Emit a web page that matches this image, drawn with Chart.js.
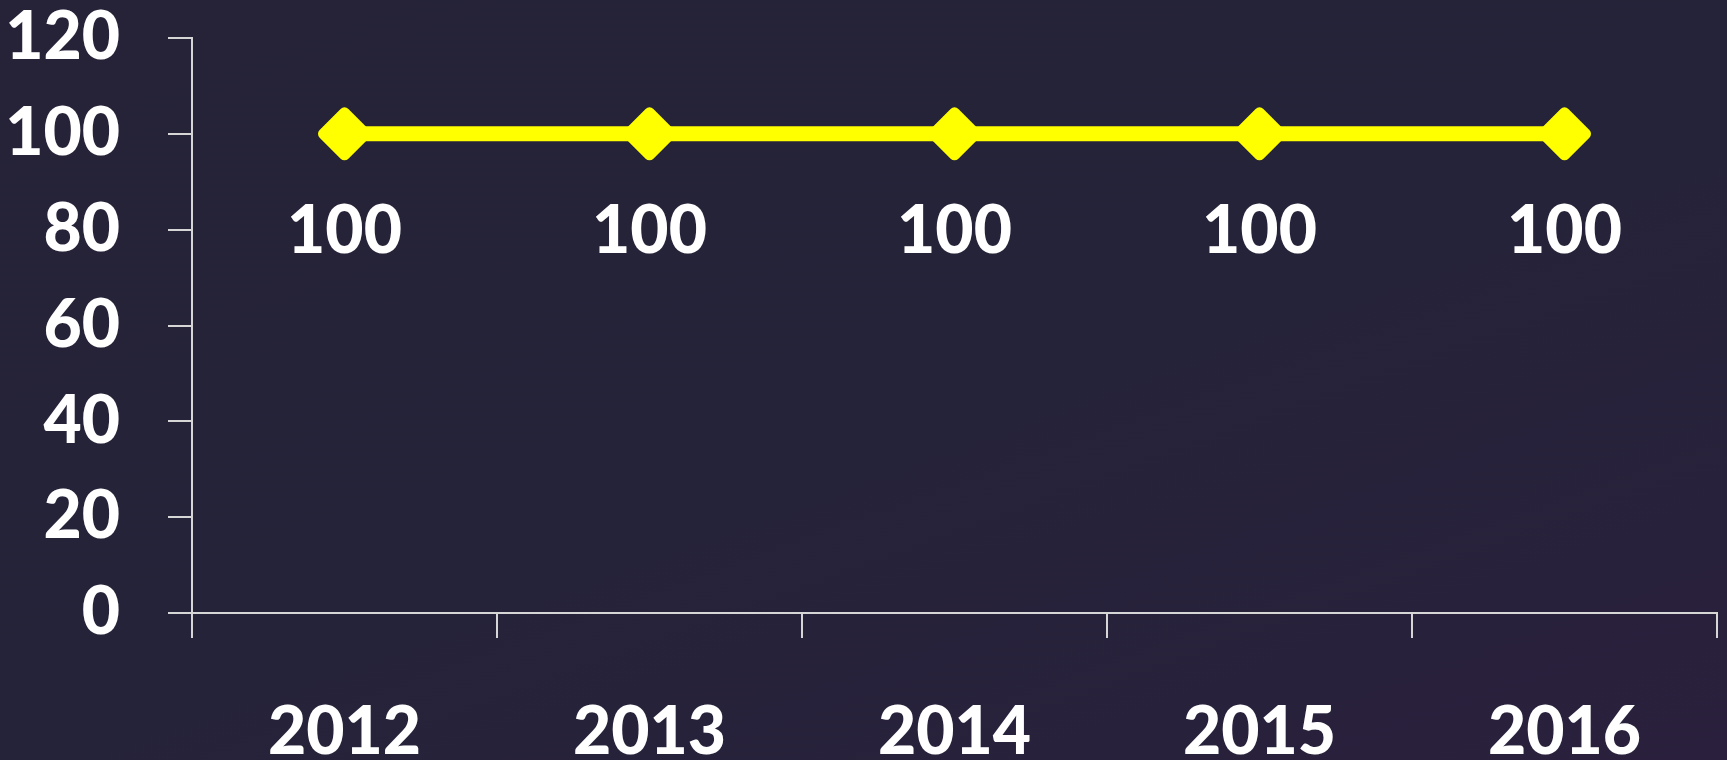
<!DOCTYPE html>
<html>
<head>
<meta charset="utf-8">
<script src="https://cdn.jsdelivr.net/npm/chart.js@4/dist/chart.umd.min.js"></script>
<style>
  html, body { margin: 0; padding: 0; }
  body {
    width: 1727px; height: 760px; overflow: hidden;
    background: linear-gradient(160deg, #262338 0%, #252339 55%, #2a203d 100%);
  }
  #wrap { width: 1727px; height: 760px; }
</style>
</head>
<body>
<div id="wrap"><canvas id="grafico"></canvas></div>
<script>
// =================== DATOS ===================
const anios = ['2012', '2013', '2014', '2015', '2016'];
const valores = [100, 100, 100, 100, 100];
const ejeYMin = 0;
const ejeYMax = 120;
const ejeYPaso = 20;

// =================== ESTILOS ===================
const amarillo = '#ffff00';
const blanco = '#ffffff';
const gris = '#d6d6d6';
const fuente = { family: 'Lato, "Open Sans", sans-serif', size: 66, weight: '900' };

// etiquetas de valor debajo de cada punto
const etiquetasValor = {
  id: 'etiquetasValor',
  afterDatasetsDraw(chart) {
    const ctx = chart.ctx;
    const meta = chart.getDatasetMeta(0);
    ctx.save();
    ctx.font = `${fuente.weight} ${fuente.size}px ${fuente.family}`;
    ctx.fillStyle = blanco;
    ctx.textAlign = 'center';
    ctx.textBaseline = 'middle';
    meta.data.forEach((pt, i) => {
      ctx.fillText(String(valores[i]), pt.x, pt.y + 98);
    });
    ctx.restore();
  }
};

// esquinas redondeadas para los rombos
const juntasRedondas = {
  id: 'juntasRedondas',
  beforeDatasetsDraw(chart) {
    chart.ctx.lineJoin = 'round';
  }
};

new Chart(document.getElementById('grafico'), {
  type: 'line',
  data: {
    labels: anios,
    datasets: [{
      data: valores,
      borderColor: amarillo,
      backgroundColor: amarillo,
      borderWidth: 15,
      pointStyle: 'rectRot',
      pointRadius: 21,
      pointBorderWidth: 11,
      pointBackgroundColor: amarillo,
      pointBorderColor: amarillo,
      fill: false,
      tension: 0
    }]
  },
  options: {
    responsive: true,
    maintainAspectRatio: false,
    animation: false,
    layout: { autoPadding: false, padding: { top: 38, right: 10, left: 0, bottom: 0 } },
    plugins: {
      legend: { display: false },
      tooltip: { enabled: false }
    },
    scales: {
      x: {
        offset: true,
        grid: { offset: true, drawOnChartArea: false, drawTicks: true, tickLength: 25, color: gris, lineWidth: 2 },
        border: { color: gris, width: 2 },
        ticks: { color: blanco, font: fuente, padding: 55, maxRotation: 0 },
        afterFit(scale) {
          scale.height = 147;
          scale.paddingLeft = 0;
          scale.paddingRight = 0;
        }
      },
      y: {
        min: ejeYMin,
        max: ejeYMax,
        ticks: { stepSize: ejeYPaso, color: blanco, font: fuente, padding: 48 },
        grid: { drawOnChartArea: false, drawTicks: true, tickLength: 24, color: gris, lineWidth: 2 },
        border: { color: gris, width: 2 },
        afterFit(scale) {
          scale.width = 192;
          scale.paddingTop = 0;
          scale.paddingBottom = 0;
        }
      }
    }
  },
  plugins: [juntasRedondas, etiquetasValor]
});
</script>
</body>
</html>
